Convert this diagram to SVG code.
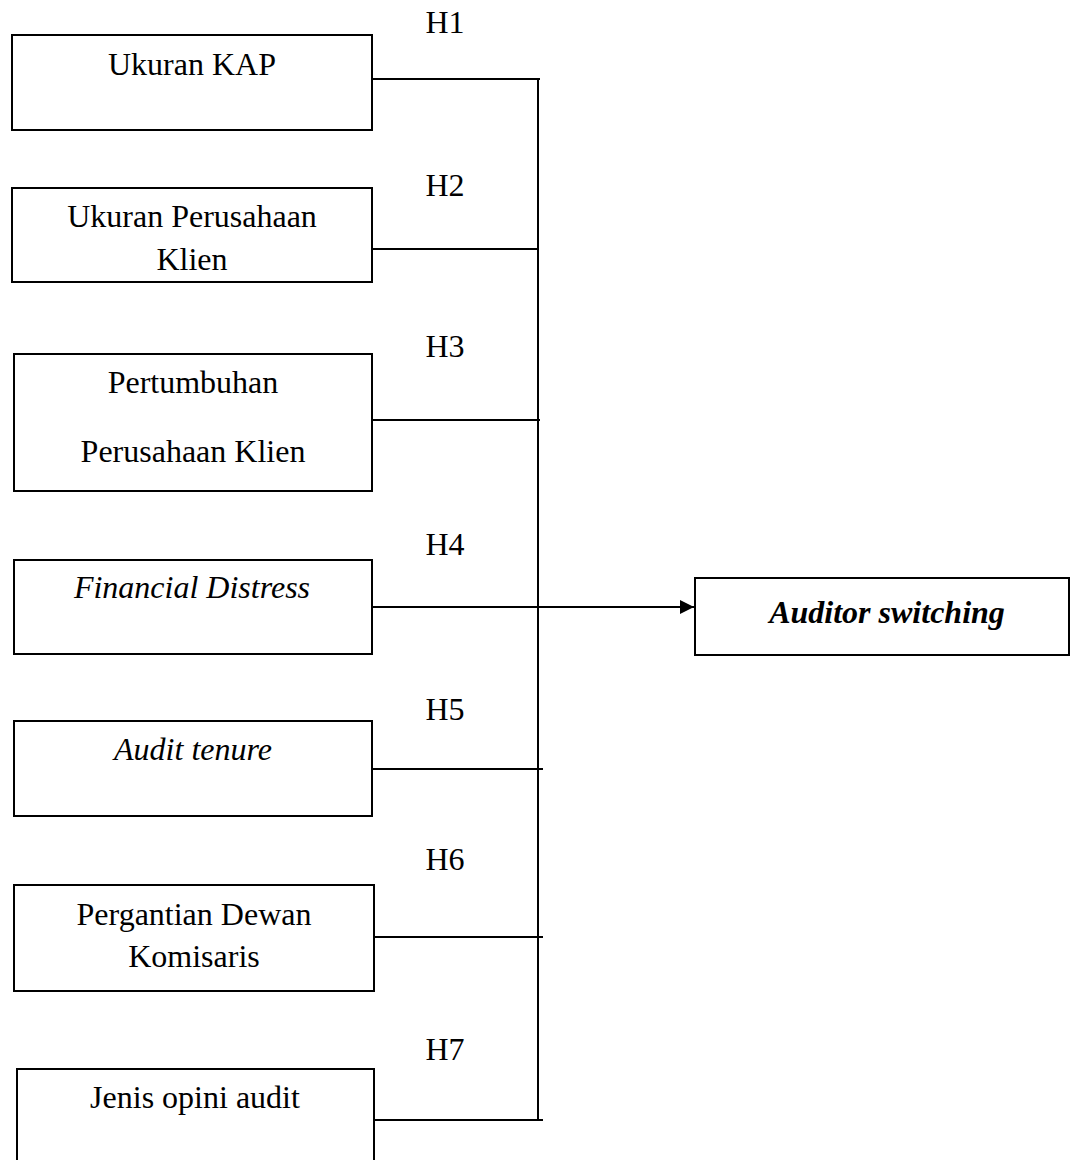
<svg xmlns="http://www.w3.org/2000/svg" width="1071" height="1160" viewBox="0 0 1071 1160">
<style>
.box{fill:#fff;stroke:#000;stroke-width:2}
.t{font-family:"Liberation Serif","Times New Roman",serif;font-size:32px;fill:#000;text-anchor:middle}
.i{font-style:italic}
.b{font-weight:bold}
.c{stroke:#000;stroke-width:2;fill:none}
</style>
<defs>
<marker id="arr" markerWidth="14" markerHeight="14" refX="14" refY="7" orient="auto" markerUnits="userSpaceOnUse">
<path d="M0,0 L14,7 L0,14 Z" fill="#000"/>
</marker>
</defs>
<rect width="1071" height="1160" fill="#fff"/>
<g id="connectors">
<line class="c" x1="538" y1="79" x2="538" y2="1121" stroke-width="1.7"/>
<line class="c" x1="372" y1="79" x2="540" y2="79"/>
<line class="c" x1="369" y1="249" x2="538" y2="249"/>
<line class="c" x1="372" y1="420" x2="540" y2="420"/>
<line class="c" x1="372" y1="607" x2="694" y2="607" marker-end="url(#arr)"/>
<line class="c" x1="372" y1="769" x2="543" y2="769"/>
<line class="c" x1="374" y1="937" x2="543" y2="937"/>
<line class="c" x1="374" y1="1120" x2="543" y2="1120"/>
</g>
<g id="labels">
<text class="t" x="445" y="33">H1</text>
<text class="t" x="445" y="196">H2</text>
<text class="t" x="445" y="357">H3</text>
<text class="t" x="445" y="555">H4</text>
<text class="t" x="445" y="720">H5</text>
<text class="t" x="445" y="870">H6</text>
<text class="t" x="445" y="1060">H7</text>
</g>
<g id="n1"><rect class="box" x="12" y="35" width="360" height="95"/><text class="t" x="192" y="75">Ukuran KAP</text></g>
<g id="n2"><rect class="box" x="12" y="188" width="360" height="94"/><text class="t" x="192" y="227">Ukuran Perusahaan</text><text class="t" x="192" y="270">Klien</text></g>
<g id="n3"><rect class="box" x="14" y="354" width="358" height="137"/><text class="t" x="193" y="393">Pertumbuhan</text><text class="t" x="193" y="462">Perusahaan Klien</text></g>
<g id="n4"><rect class="box" x="14" y="560" width="358" height="94"/><text class="t i" x="192" y="598">Financial Distress</text></g>
<g id="n5"><rect class="box" x="14" y="721" width="358" height="95"/><text class="t i" x="193" y="760">Audit tenure</text></g>
<g id="n6"><rect class="box" x="14" y="885" width="360" height="106"/><text class="t" x="194" y="925">Pergantian Dewan</text><text class="t" x="194" y="967">Komisaris</text></g>
<g id="n7"><rect class="box" x="17" y="1069" width="357" height="110"/><text class="t" x="195" y="1108">Jenis opini audit</text></g>
<g id="n8"><rect class="box" x="695" y="578" width="374" height="77"/><text class="t i b" x="887" y="623">Auditor switching</text></g>
</svg>
